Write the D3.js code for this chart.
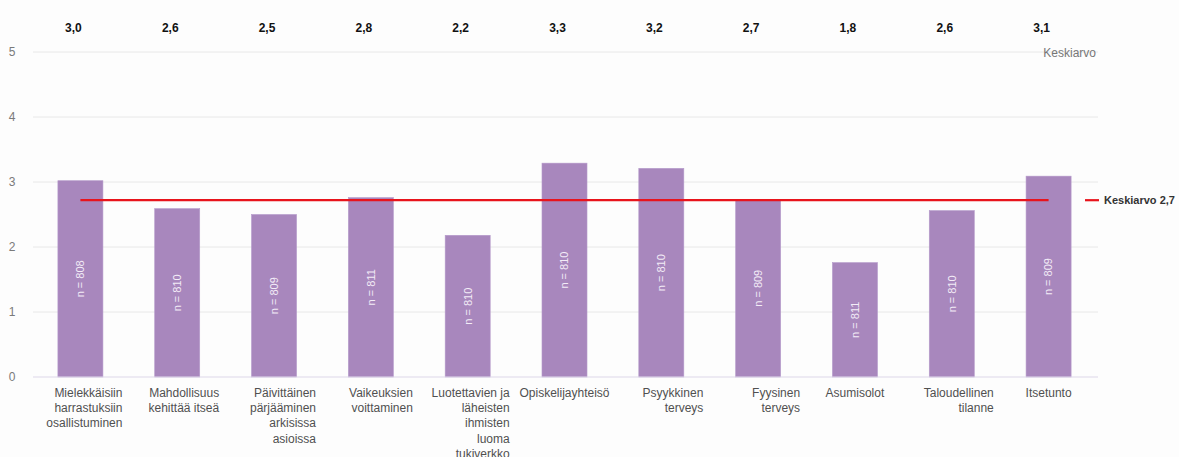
<!DOCTYPE html>
<html>
<head>
<meta charset="utf-8">
<script src="https://cdn.jsdelivr.net/npm/d3@7"></script>
<style>
  html, body { margin: 0; padding: 0; background: #fdfdfd; }
  svg { display: block; font-family: "Liberation Sans", Arial, sans-serif; }
</style>
</head>
<body>
<svg id="chart" width="1179" height="457"></svg>
<script>
// Survey categories (each label line is a separate entry)
const categories = [
  ["Mielekkäisiin", "harrastuksiin", "osallistuminen"],
  ["Mahdollisuus", "kehittää itseä"],
  ["Päivittäinen", "pärjääminen", "arkisissa", "asioissa"],
  ["Vaikeuksien", "voittaminen"],
  ["Luotettavien ja", "läheisten", "ihmisten", "luoma", "tukiverkko"],
  ["Opiskelijayhteisö"],
  ["Psyykkinen", "terveys"],
  ["Fyysinen", "terveys"],
  ["Asumisolot"],
  ["Taloudellinen", "tilanne"],
  ["Itsetunto"]
];
// Mean score per category (scale 0–5)
const means = [3.02, 2.59, 2.50, 2.76, 2.18, 3.29, 3.21, 2.73, 1.76, 2.56, 3.09];
// Respondent count per category
const counts = [808, 810, 809, 811, 810, 810, 810, 809, 811, 810, 809];
// Overall mean
const overallMean = 2.72;
const yTicks = [0, 1, 2, 3, 4, 5];

const fmt = v => d3.format(".1f")(v).replace(".", ",");

const svg = d3.select("#chart");
const plotLeft = 32, plotRight = 1097, plotTop = 52, plotBottom = 377;

const x = d3.scaleBand()
  .domain(d3.range(categories.length))
  .range([plotLeft, plotRight])
  .paddingInner(0.535)
  .paddingOuter(0.2675);
const y = d3.scaleLinear().domain([0, 5]).range([plotBottom, plotTop]);
const cx = i => x(i) + x.bandwidth() / 2;

// Gridlines
svg.append("g").selectAll("line")
  .data(yTicks.filter(t => t > 0))
  .join("line")
  .attr("x1", plotLeft + 1).attr("x2", plotRight + 1)
  .attr("y1", d => y(d)).attr("y2", d => y(d))
  .attr("stroke", "#e8e8e8").attr("stroke-width", 1);

// Y tick labels
svg.append("g").selectAll("text")
  .data(yTicks)
  .join("text")
  .attr("x", 12).attr("y", d => y(d))
  .attr("dy", "0.35em")
  .attr("text-anchor", "middle")
  .attr("font-size", 12)
  .attr("fill", "#7a7a7a")
  .text(d => d);

// Bars
svg.append("g").selectAll("rect")
  .data(means)
  .join("rect")
  .attr("x", (d, i) => x(i))
  .attr("width", x.bandwidth())
  .attr("y", d => y(d))
  .attr("height", d => y(0) - y(d))
  .attr("fill", "#a887bd")
  .attr("stroke", "#b59acb")
  .attr("stroke-width", 0.6);

// Baseline
svg.append("line")
  .attr("x1", plotLeft + 1).attr("x2", plotRight + 1)
  .attr("y1", y(0)).attr("y2", y(0))
  .attr("stroke", "#ddd8ea").attr("stroke-width", 1.2);

// Respondent counts inside bars
svg.append("g").selectAll("text")
  .data(means)
  .join("text")
  .attr("transform", (d, i) => `translate(${cx(i)},${(y(d) + y(0)) / 2}) rotate(-90)`)
  .attr("text-anchor", "middle")
  .attr("dy", "0.35em")
  .attr("font-size", 11)
  .attr("fill", "#f3ecf7")
  .text((d, i) => `n = ${counts[i]}`);

// Value labels along the top
svg.append("g").selectAll("text")
  .data(means)
  .join("text")
  .attr("x", (d, i) => cx(i) - 7)
  .attr("y", 28)
  .attr("dy", "0.35em")
  .attr("text-anchor", "middle")
  .attr("font-size", 12)
  .attr("font-weight", "bold")
  .attr("fill", "#111")
  .text(d => fmt(d));

svg.append("text")
  .attr("x", 1096).attr("y", 53)
  .attr("dy", "0.35em")
  .attr("text-anchor", "end")
  .attr("font-size", 12)
  .attr("fill", "#777")
  .text("Keskiarvo");

// Category labels: wrapped labels are right-aligned, single lines centred
const labels = svg.append("g").selectAll("text")
  .data(categories)
  .join("text")
  .attr("font-size", 12)
  .attr("fill", "#505050")
  .attr("text-anchor", d => d.length > 1 ? "end" : "middle");
labels.each(function(lines, i) {
  const xPos = lines.length > 1 ? cx(i) + 42 : cx(i);
  d3.select(this).selectAll("tspan")
    .data(lines)
    .join("tspan")
    .attr("x", xPos)
    .attr("y", (l, k) => 393 + k * 15.1)
    .attr("dy", "0.35em")
    .text(l => l);
});

// Overall mean line
svg.append("line")
  .attr("x1", cx(0)).attr("x2", cx(categories.length - 1))
  .attr("y1", y(overallMean)).attr("y2", y(overallMean))
  .attr("stroke", "#e8141c").attr("stroke-width", 2.2);

// Legend
svg.append("line")
  .attr("x1", 1085).attr("x2", 1099)
  .attr("y1", y(overallMean)).attr("y2", y(overallMean))
  .attr("stroke", "#e8141c").attr("stroke-width", 2.2);
svg.append("text")
  .attr("x", 1104).attr("y", y(overallMean))
  .attr("dy", "0.35em")
  .attr("font-size", 11)
  .attr("font-weight", "bold")
  .attr("fill", "#333")
  .text("Keskiarvo " + fmt(overallMean));
</script>
</body>
</html>
